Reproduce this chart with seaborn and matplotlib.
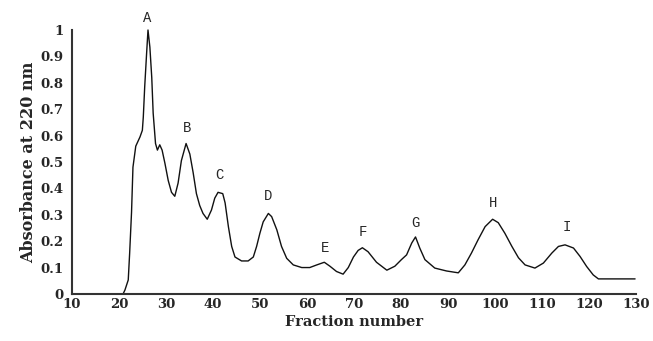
import matplotlib
matplotlib.use("Agg")
import matplotlib.pyplot as plt
import seaborn as sns
import pandas as pd

fraction = [10, 20.9, 21.3, 22.0, 22.3, 22.7, 23.0, 23.6, 24.5, 25.0, 25.2, 25.5, 25.9, 26.2,
            26.6, 27.0, 27.3, 27.8, 28.2, 28.7, 29.2, 29.8, 30.5, 31.2, 31.9, 32.6, 33.3,
            34.3, 35.1, 35.8, 36.5, 37.2, 37.9, 38.8, 39.7, 40.4, 41.1, 42.1, 42.6, 43.3,
            44.0, 44.7, 46.1, 47.5, 48.6, 49.3, 50.0, 50.7, 51.8, 52.5, 53.6, 54.6, 55.7,
            57.1, 58.9, 60.6, 62.1, 63.7, 64.9, 66.3, 67.7, 68.8, 69.9, 70.9, 71.8, 73.0,
            74.8, 77.0, 78.7, 80.1, 81.2, 82.3, 83.1, 84.0, 85.1, 87.2, 89.7, 92.2, 93.6,
            95.0, 96.4, 97.9, 99.5, 100.7, 102.1, 103.6, 105.0, 106.4, 108.5, 110.3, 112.1,
            113.5, 114.9, 116.7, 118.1, 119.5, 120.9, 122.0, 129.8]
absorbance = [0, 0, 0.015, 0.053, 0.155, 0.31, 0.48, 0.56, 0.595, 0.62, 0.67, 0.785, 0.91, 1.0,
              0.935, 0.82, 0.685, 0.57, 0.545, 0.565, 0.545, 0.495, 0.43, 0.385, 0.37, 0.42,
              0.505, 0.57, 0.53, 0.46, 0.38, 0.335, 0.305, 0.283, 0.318, 0.363, 0.385, 0.38,
              0.345, 0.255, 0.18, 0.14, 0.125, 0.125, 0.14, 0.18, 0.23, 0.273, 0.305, 0.293,
              0.243, 0.18, 0.135, 0.11, 0.1, 0.1, 0.11, 0.12, 0.105, 0.085, 0.075, 0.1, 0.14,
              0.165, 0.175, 0.16, 0.12, 0.09, 0.105, 0.13, 0.148, 0.193, 0.216, 0.174, 0.13,
              0.098, 0.087, 0.08, 0.11, 0.155, 0.205, 0.255, 0.283, 0.27, 0.23, 0.18, 0.137,
              0.11, 0.098, 0.117, 0.155, 0.18, 0.186, 0.174, 0.142, 0.104, 0.072, 0.057, 0.057]

peak_labels = ["A", "B", "C", "D", "E", "F", "G", "H", "I"]
peak_x = [26.0, 34.5, 41.3, 51.7, 63.8, 71.9, 83.0, 99.6, 115.3]
peak_y = [1.045, 0.63, 0.45, 0.37, 0.175, 0.235, 0.27, 0.345, 0.255]

xticks = list(range(10, 131, 10))
yticks = [0, 0.1, 0.2, 0.3, 0.4, 0.5, 0.6, 0.7, 0.8, 0.9, 1]
ytick_labels = ["0", "0.1", "0.2", "0.3", "0.4", "0.5", "0.6", "0.7", "0.8", "0.9", "1"]

sns.set_style("white")
plt.rcParams['font.family'] = ['DejaVu Serif', 'Liberation Serif']

df = pd.DataFrame({"Fraction": fraction, "Absorbance": absorbance})

fig = plt.figure(figsize=(6.53, 3.41), dpi=100)
ax = fig.add_axes([0.110, 0.138, 0.864, 0.774])
sns.lineplot(data=df, x="Fraction", y="Absorbance", ax=ax, color="#111111", linewidth=1.0,
             clip_on=False)

for lab, px, py in zip(peak_labels, peak_x, peak_y):
    ax.text(px, py, lab, ha="center", va="center", fontsize=10,
            family=["Liberation Mono", "DejaVu Sans Mono"])

ax.set_xlim(10, 130)
ax.set_ylim(0, 1)
ax.set_xticks(xticks)
ax.set_yticks(yticks)
ax.set_yticklabels(ytick_labels)
ax.tick_params(axis="x", direction="in", length=4, width=1, labelsize=9.5, pad=3)
ax.tick_params(axis="y", direction="out", length=4, width=1, labelsize=9.5, pad=2)
for lbl in ax.get_xticklabels() + ax.get_yticklabels():
    lbl.set_fontweight("bold")
ax.set_xlabel("Fraction number", fontsize=10.5, fontweight="bold", labelpad=3)
ax.set_ylabel("Absorbance at 220 nm", fontsize=11.5, fontweight="bold", labelpad=2)

sns.despine(ax=ax)
for sp in ["left", "bottom"]:
    ax.spines[sp].set_color("#333333")
    ax.spines[sp].set_linewidth(1.5)

fig.savefig("out.png", dpi=100)
